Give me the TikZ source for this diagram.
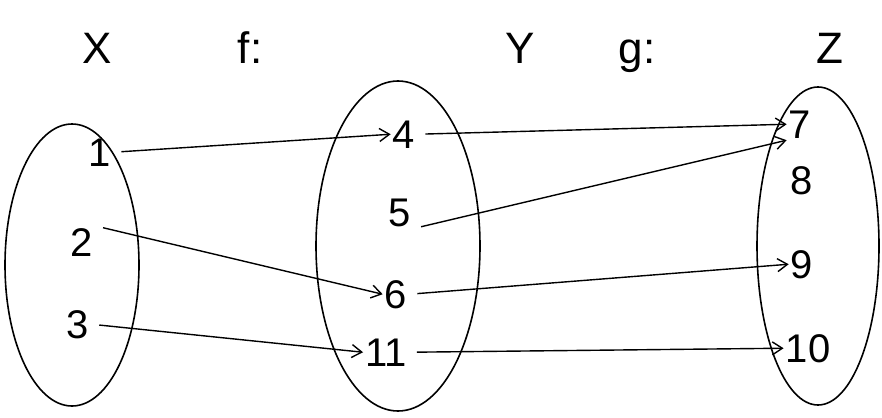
\documentclass[tikz,border=0pt]{standalone}
\usepackage{fontspec}
\setmainfont{Liberation Sans}
\usetikzlibrary{arrows.meta,shapes.geometric}
\tikzset{
  setbox/.style={draw, ellipse, line width=1.6pt, inner sep=0pt},
  elem/.style={font=\fontsize{40}{44}\selectfont, inner sep=2pt, anchor=base},
  ttl/.style={font=\fontsize{44}{48}\selectfont, anchor=base},
  maparrow/.style={draw, line width=1.4pt, shorten <=8pt, -{Straight Barb[length=10pt,width=13pt]}}
}
\begin{document}
\begin{tikzpicture}[x=1pt,y=-1pt]
\useasboundingbox (0,0) rectangle (882,417);
% titles
\node[ttl] (tX) at (97,64) {X};
\node[ttl] (tf) at (250,64) {f:};
\node[ttl] (tY) at (520,64) {Y};
\node[ttl] (tg) at (637,64) {g:};
\node[ttl] (tZ) at (830,64) {Z};
% sets
\node[setbox, minimum width=134pt, minimum height=282pt] (X) at (72,265) {};
\node[setbox, minimum width=164pt, minimum height=330pt] (Y) at (398,246) {};
\node[setbox, minimum width=122pt, minimum height=318pt] (Z) at (818,246) {};
% elements
\node[elem] (x1) at (100,166) {1};
\node[elem] (x2) at (82,256) {2};
\node[elem] (x3) at (78,338) {3};
\node[elem] (y4) at (404,148) {4};
\node[elem] (y5) at (400,226) {5};
\node[elem] (y6) at (396,308) {6};
\node[elem] (y11) at (386,366) {11};
\node[elem] (z7) at (800,138) {7};
\node[elem] (z8) at (802,194) {8};
\node[elem] (z9) at (802,278) {9};
\node[elem] (z10) at (808,362) {10};
% f
\draw[maparrow] (x1.east) -- (y4.west);
\draw[maparrow] (x2.north east) -- (y6.west);
\draw[maparrow] (x3.east) -- (y11.west);
% g
\draw[maparrow] (y4.east) -- (z7.west);
\draw[maparrow] (y5.south east) -- (z7.south west);
\draw[maparrow] (y6.east) -- (z9.west);
\draw[maparrow] (y11.east) -- (z10.west);
\end{tikzpicture}
\end{document}
